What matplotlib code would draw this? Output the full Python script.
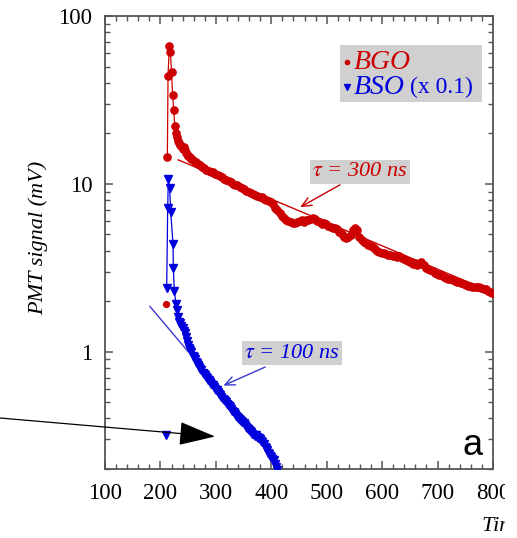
import matplotlib
matplotlib.use('Agg')
import matplotlib.pyplot as plt
from matplotlib.ticker import LogLocator, MultipleLocator, NullFormatter, FixedLocator
from matplotlib.patches import Rectangle, FancyArrowPatch

plt.rc('font', family='Liberation Serif', size=16)
plt.rc('mathtext', fontset='stix')

# BGO decay (red dots)
bgo_t = [212.5, 213.7, 216, 218, 220, 222, 224, 226, 228, 230, 232, 234, 236, 238, 240,
         242, 244, 246, 248, 250, 253, 256, 259, 262, 265, 268, 271, 275, 279, 283,
         287, 291, 295, 299, 303, 307, 311, 315, 319, 323, 327, 331, 335, 339, 343,
         347, 351, 355, 359, 363, 367, 371, 375, 379, 383, 387, 391, 395, 399, 403,
         407, 411, 415, 419, 423, 427, 431, 435, 439, 443, 447, 451, 455, 459, 463,
         467, 471, 475, 479, 483, 487, 491, 495, 499, 503, 507, 511, 515, 519, 523,
         527, 531, 535, 539, 543, 547, 551, 555, 559, 563, 567, 571, 575, 579, 583,
         587, 591, 595, 599, 603, 607, 611, 615, 619, 623, 627, 631, 635, 639, 643,
         647, 651, 655, 659, 663, 667, 671, 675, 679, 683, 687, 691, 695, 699, 703,
         707, 711, 715, 719, 723, 727, 731, 735, 739, 743, 747, 751, 755, 759, 763,
         767, 771, 775, 779, 783, 787, 791, 795, 799, 803]
bgo_v = [14.4, 44, 66.6, 61, 46.5, 33.8, 27.5, 22.1, 20.0, 19.0, 18.0, 17.4, 17.0, 16.9, 16.2,
         16.5, 15.8, 15.3, 15.1, 14.7, 14.5, 14.0, 13.9, 13.5, 13.5, 13.1, 13.0, 12.6, 12.5, 12.1,
         12.0, 11.7, 11.7, 11.4, 11.3, 11.1, 11.0, 10.7, 10.6, 10.4, 10.3, 10.0, 9.9, 9.8, 9.6,
         9.4, 9.3, 9.1, 9.0, 8.8, 8.75, 8.55, 8.5, 8.4, 8.3, 8.15, 8.05, 7.95, 7.8, 7.55,
         7.2, 6.95, 6.7, 6.45, 6.25, 6.1, 6.0, 5.9, 5.85, 5.85, 5.95, 6.0, 6.05, 5.95, 6.05,
         6.1, 6.2, 6.25, 6.15, 6.0, 5.9, 5.8, 5.85, 5.75, 5.6, 5.5, 5.45, 5.45, 5.35, 5.15,
         5.0, 4.85, 4.75, 4.8, 4.95, 5.3, 5.45, 5.3, 4.8, 4.6, 4.5, 4.45, 4.35, 4.25, 4.2,
         4.1, 4.0, 3.95, 3.85, 3.88, 3.8, 3.78, 3.75, 3.72, 3.72, 3.65, 3.7, 3.6, 3.55, 3.5,
         3.45, 3.42, 3.35, 3.37, 3.3, 3.35, 3.42, 3.3, 3.15, 3.12, 3.05, 3.02, 2.95, 2.9, 2.87,
         2.85, 2.8, 2.76, 2.72, 2.7, 2.66, 2.64, 2.6, 2.61, 2.56, 2.53, 2.5, 2.47, 2.47, 2.44,
         2.43, 2.42, 2.42, 2.4, 2.37, 2.35, 2.3, 2.28, 2.25, 2.22]
bgo_lone_t = [210]
bgo_lone_v = [1.93]

# BSO decay (blue triangles, already scaled x 0.1)
bso_t = [211.3, 213.1, 214.3, 216.7, 218.5, 222.7, 223.3, 225, 228,
         230, 232, 234, 236, 238, 240, 242, 244, 246, 248, 250, 252, 254, 256, 258, 260,
         262, 264, 266, 268, 270, 272, 274, 276, 278, 280, 282, 284, 286, 288, 290, 292,
         294, 296, 298, 300, 302, 304, 306, 308, 310, 312, 314, 316, 318, 320, 322, 324,
         326, 328, 330, 332, 334, 336, 338, 340, 342, 344, 346, 348, 350, 352, 354, 356,
         358, 360, 362, 364, 366, 368, 370, 372, 374, 376, 378, 380, 382, 384, 386, 388,
         390, 392, 394, 396, 398, 400, 402, 404, 406, 408, 410]
bso_v = [2.4, 7.2, 10.7, 9.4, 6.8, 4.4, 3.15, 2.3, 1.93,
         1.78, 1.62, 1.5, 1.48, 1.42, 1.38, 1.33, 1.29, 1.22, 1.16, 1.1, 1.05, 1.02, 0.99, 0.94, 0.93,
         0.9, 0.87, 0.86, 0.83, 0.81, 0.79, 0.78, 0.75, 0.74, 0.73, 0.71, 0.70, 0.68, 0.675, 0.66, 0.64,
         0.63, 0.615, 0.60, 0.595, 0.59, 0.575, 0.56, 0.55, 0.535, 0.525, 0.515, 0.505, 0.50, 0.49, 0.48, 0.475,
         0.47, 0.455, 0.445, 0.435, 0.425, 0.415, 0.41, 0.405, 0.395, 0.39, 0.385, 0.38, 0.375, 0.365, 0.355, 0.35,
         0.345, 0.34, 0.335, 0.33, 0.325, 0.32, 0.315, 0.317, 0.31, 0.305, 0.307, 0.30, 0.295, 0.29, 0.28, 0.27,
         0.265, 0.26, 0.25, 0.245, 0.24, 0.235, 0.23, 0.225, 0.215, 0.205, 0.198]
bso_lone_t = [210]
bso_lone_v = [0.32]

# exponential fits (straight lines on log scale), end points
fit300_t = [232, 800]
fit300_v = [13.9, 2.25]
fit100_t = [181, 250]
fit100_v = [1.86, 1.0]

red = '#cc0000'
blue = '#0000dd'
boxgray = '#d0d0d0'

fig = plt.figure(figsize=(5.17, 5.38), dpi=100)
ax = fig.add_axes([105/517, 1-469/538, 388/517, 453/538])

ax.plot(fit300_t, fit300_v, color=red, lw=1.0, zorder=2)
ax.plot(fit100_t, fit100_v, color='#3a3ad0', lw=1.0, zorder=2)
ax.plot(bgo_t, bgo_v, color=red, lw=0.9, marker='o', ms=5.2, mec=red, mfc=red, zorder=3)
ax.plot(bgo_lone_t, bgo_lone_v, ls='none', marker='o', ms=4.2, color=red, zorder=3)
ax.plot(bso_t, bso_v, color=blue, lw=0.9, marker='v', ms=6.3, mec=blue, mfc=blue, zorder=3)
ax.plot(bso_lone_t, bso_lone_v, ls='none', marker='v', ms=5.5, color=blue, zorder=3)

ax.set_yscale('log')
ax.set_xlim(100, 800)
ax.set_ylim(0.2, 100)
ax.xaxis.set_major_locator(MultipleLocator(100))
ax.xaxis.set_minor_locator(MultipleLocator(20))
ax.yaxis.set_major_locator(FixedLocator([1, 10, 100]))
ax.yaxis.set_minor_locator(LogLocator(base=10, subs=[2, 3, 4, 5, 6, 7, 8, 9]))
ax.yaxis.set_minor_formatter(NullFormatter())
ax.set_yticklabels(['1', '10', '100'])
ax.tick_params(which='both', direction='in', top=True, right=True, color='#555555')
ax.tick_params(which='major', length=6, width=1.1)
ax.tick_params(which='minor', length=3.5, width=1.0)
ax.tick_params(axis='x', pad=10, labelsize=16.5)
ax.tick_params(axis='y', pad=9, labelsize=16.5)
for s in ax.spines.values():
    s.set_color('#555555')
    s.set_linewidth(1.3)

fig.text(38/517, 1-238/538, 'PMT signal (mV)', rotation=90, style='italic',
         ha='center', va='center', fontsize=16)
fig.text(482/517, 1-527/538, 'Time (ns)', style='italic', ha='left', va='center', fontsize=16)

# legend box
ax.add_patch(Rectangle((0.606, 0.811), 0.366, 0.125, transform=ax.transAxes,
                       facecolor=boxgray, edgecolor='none', zorder=4))
ax.plot([0.624], [0.898], transform=ax.transAxes, marker='o', ms=3, color=red, zorder=5, clip_on=False)
ax.plot([0.624], [0.843], transform=ax.transAxes, marker='v', ms=4, color=blue, zorder=5, clip_on=False)
ax.text(0.641, 0.898, 'BGO', transform=ax.transAxes, color=red, style='italic',
        fontsize=20, ha='left', va='center', zorder=5)
ax.text(0.641, 0.843, 'BSO', transform=ax.transAxes, color=blue, style='italic',
        fontsize=20, ha='left', va='center', zorder=5)
ax.text(0.787, 0.843, '(x 0.1)', transform=ax.transAxes, color=blue,
        fontsize=17, ha='left', va='center', zorder=5)

# tau labels with arrows
ax.text(0.657, 0.656, r'$\tau$ = 300 ns', transform=ax.transAxes, color=red, style='italic',
        fontsize=16, ha='center', va='center', zorder=5,
        bbox=dict(boxstyle='square,pad=0.12', facecolor=boxgray, edgecolor='none'))
ax.annotate('', xy=(452, 7.26), xytext=(524, 9.87), zorder=5,
            arrowprops=dict(arrowstyle='->,head_length=0.5,head_width=0.22', color=red, lw=1.0,
                            shrinkA=0, shrinkB=0, mutation_scale=14))
ax.text(0.482, 0.256, r'$\tau$ = 100 ns', transform=ax.transAxes, color=blue, style='italic',
        fontsize=16, ha='center', va='center', zorder=5,
        bbox=dict(boxstyle='square,pad=0.12', facecolor=boxgray, edgecolor='none'))
ax.annotate('', xy=(313.5, 0.628), xytext=(389, 0.81), zorder=5,
            arrowprops=dict(arrowstyle='->,head_length=0.5,head_width=0.22', color='#3a3ad0', lw=1.0,
                            shrinkA=0, shrinkB=0, mutation_scale=14))

# panel letter, placed in figure pixels (origin bottom-left)
fig.text(472.5/517, 1-445.5/538, 'a', fontsize=26, family='Liberation Sans',
         ha='center', va='center')

# big black arrow coming in from the left edge
arr = FancyArrowPatch((0, 538-418), (215, 538-436.5), transform=None,
                      arrowstyle='-|>,head_length=23,head_width=7.5', mutation_scale=1,
                      color='black', lw=0.9, shrinkA=0, shrinkB=0)
fig.add_artist(arr)

# the picture is cut a bit before its right border
fig.add_artist(Rectangle((505/517, 0), 12/517, 1, transform=fig.transFigure,
                         facecolor='white', edgecolor='none', zorder=10))

fig.savefig('out.png', dpi=100)
